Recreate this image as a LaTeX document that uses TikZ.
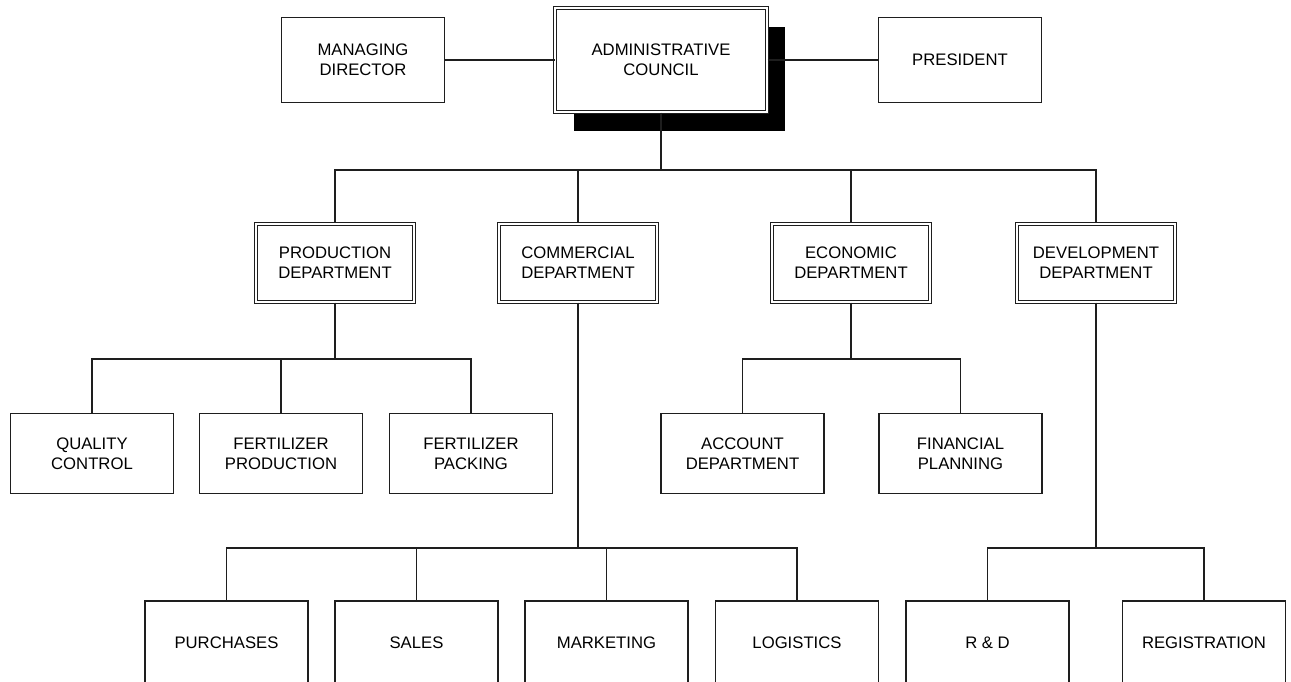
\documentclass[tikz,border=0pt]{standalone}
\usepackage{fontspec}
\setmainfont{Liberation Sans}
\usetikzlibrary{shadows}
\definecolor{ocInk}{HTML}{1E1E1E}
\tikzset{
  org/.style={draw=ocInk, line width=0.7pt, fill=white, minimum width=3.26cm, minimum height=1.61cm, inner sep=2pt, align=center, font=\fontsize{9.5}{11.5}\selectfont},
  orgD/.style={org, double=white, double distance=1.2pt, line width=0.6pt, minimum width=3.16cm, minimum height=1.56cm},
  orgS/.style={orgD, drop shadow={shadow xshift=0.37cm, shadow yshift=-0.38cm, fill=black, opacity=1}},
  lnk/.style={draw=ocInk, line width=0.85pt},
}
\begin{document}
\begin{tikzpicture}[x=0.02cm, y=-0.02cm]
    \useasboundingbox (0,0) rectangle (1291,681);
    \clip (0,0) rectangle (1291,681);
    % board
    \node[orgS, minimum width=4.24cm, minimum height=2.08cm] (council) at (661,60) {ADMINISTRATIVE\\COUNCIL};
    \node[org, minimum height=1.71cm] (md) at (363,60) {MANAGING\\DIRECTOR};
    \node[org, minimum height=1.71cm] (pres) at (960,60) {PRESIDENT};
    % departments
    \node[orgD] (prod) at (335,263) {PRODUCTION\\DEPARTMENT};
    \node[orgD] (com) at (578,263) {COMMERCIAL\\DEPARTMENT};
    \node[orgD] (eco) at (851,263) {ECONOMIC\\DEPARTMENT};
    \node[orgD] (dev) at (1096,263) {DEVELOPMENT\\DEPARTMENT};
    % units
    \node[org] (qc) at (92,453.5) {QUALITY\\CONTROL};
    \node[org] (fprod) at (281,453.5) {FERTILIZER\\PRODUCTION};
    \node[org] (fpack) at (471,453.5) {FERTILIZER\\PACKING};
    \node[org] (acc) at (742.5,453.5) {ACCOUNT\\DEPARTMENT};
    \node[org] (fin) at (960.5,453.5) {FINANCIAL\\PLANNING};
    \node[org, minimum height=1.68cm] (pur) at (226.5,643) {PURCHASES};
    \node[org, minimum height=1.68cm] (sal) at (416.5,643) {SALES};
    \node[org, minimum height=1.68cm] (mkt) at (606.5,643) {MARKETING};
    \node[org, minimum height=1.68cm] (log) at (797,643) {LOGISTICS};
    \node[org, minimum height=1.68cm] (rnd) at (987.5,643) {R \& D};
    \node[org, minimum height=1.68cm] (reg) at (1204,643) {REGISTRATION};
    % junctions
    \coordinate (jTop) at (661,170);
    \coordinate (jProd) at (335,359);
    \coordinate (jEco) at (851,359);
    \coordinate (jCom) at (578,548);
    \coordinate (jDev) at (1096,548);
    \draw[lnk] (md) -- (council); \draw[lnk] (council) -- (pres);
    \draw[lnk] (council.south) -- (jTop);
    \draw[lnk] (jTop) -| (prod.north); \draw[lnk] (jTop) -| (com.north); \draw[lnk] (jTop) -| (eco.north); \draw[lnk] (jTop) -| (dev.north);
    \draw[lnk] (prod.south) -- (jProd);
    \draw[lnk] (jProd) -| (qc.north); \draw[lnk] (jProd) -| (fprod.north); \draw[lnk] (jProd) -| (fpack.north);
    \draw[lnk] (eco.south) -- (jEco);
    \draw[lnk] (jEco) -| (acc.north); \draw[lnk] (jEco) -| (fin.north);
    \draw[lnk] (com.south) -- (jCom);
    \draw[lnk] (jCom) -| (pur.north); \draw[lnk] (jCom) -| (sal.north); \draw[lnk] (jCom) -| (mkt.north); \draw[lnk] (jCom) -| (log.north);
    \draw[lnk] (dev.south) -- (jDev);
    \draw[lnk] (jDev) -| (rnd.north); \draw[lnk] (jDev) -| (reg.north);
\end{tikzpicture}
\end{document}
